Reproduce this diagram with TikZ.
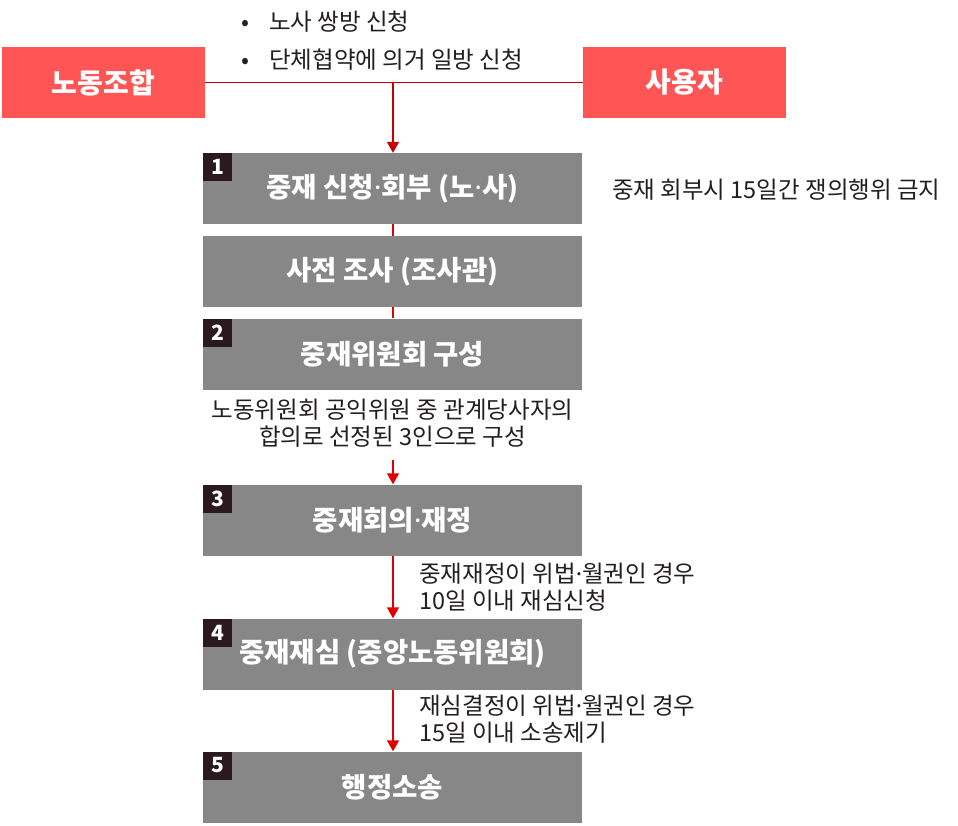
\documentclass[tikz,border=0pt]{standalone}
\usepackage{fontspec}
\setmainfont{Noto Sans CJK KR}
\newfontfamily\latinfont{Noto Sans}
\newcommand{\mdot}{{\latinfont ·}}
\usetikzlibrary{arrows.meta}
\definecolor{redbox}{RGB}{255,85,85}
\definecolor{graybox}{RGB}{135,135,135}
\definecolor{numbox}{RGB}{42,26,31}
\definecolor{lineRed}{RGB}{200,0,0}
\definecolor{arrowRed}{RGB}{225,0,0}
\definecolor{txt}{RGB}{35,31,32}
\tikzset{
  redblock/.style={fill=redbox, inner sep=0pt, minimum width=203pt, minimum height=71pt,
    text=white, font=\fontsize{28}{32}\selectfont\bfseries},
  stepbox/.style={fill=graybox, inner sep=0pt, minimum width=379pt, minimum height=71pt,
    text=white, font=\fontsize{27.5}{32}\selectfont\bfseries},
  numtag/.style={fill=numbox, inner sep=0pt, minimum width=29pt, minimum height=28pt,
    text=white, font=\fontsize{21}{24}\selectfont\bfseries, anchor=north west},
  note/.style={text=txt, inner sep=0pt, font=\fontsize{23.5}{27}\selectfont},
  link/.style={draw=arrowRed, line width=1.5pt},
  flow/.style={draw=arrowRed, line width=1.5pt, -{Triangle[width=12pt,length=11pt]}},
}
\begin{document}
\begin{tikzpicture}[x=1pt,y=-1pt]
\useasboundingbox (0,0) rectangle (958,825);
% top parties
\node[redblock] (union) at (103.5,82.5) {노동조합};
\node[redblock] (employer) at (684.5,82.5) {사용자};
\node[note, anchor=west] (b1) at (241,22) {•\hspace{20pt}노사 쌍방 신청};
\node[note, anchor=west] (b2) at (241,60) {•\hspace{20pt}단체협약에 의거 일방 신청};
% steps
\node[stepbox] (s1) at (392.5,188.5) {중재 신청\mdot 회부 (노\mdot 사)};
\node[stepbox] (s1b) at (392.5,271.5) {사전 조사 (조사관)};
\node[stepbox] (s2) at (392.5,354) {중재위원회 구성};
\node[stepbox] (s3) at (392.5,520) {중재회의\mdot 재정};
\node[stepbox] (s4) at (392.5,654) {중재재심 (중앙노동위원회)};
\node[stepbox] (s5) at (392.5,787) {행정소송};
\node[numtag] (n1) at (s1.north west) {1};
\node[numtag] (n2) at (s2.north west) {2};
\node[numtag] (n3) at (s3.north west) {3};
\node[numtag] (n4) at (s4.north west) {4};
\node[numtag] (n5) at (s5.north west) {5};
% notes
\node[note, anchor=west] (r1) at (612,190) {중재 회부시 15일간 쟁의행위 금지};
\node[note, align=center] (c2) at (392.5,423.5) {노동위원회 공익위원 중 관계당사자의\\합의로 선정된 3인으로 구성};
\node[note, anchor=west, align=left] (c3) at (419,587.5) {중재재정이 위법\mdot 월권인 경우\\10일 이내 재심신청};
\node[note, anchor=west, align=left] (c4) at (419,719.5) {재심결정이 위법\mdot 월권인 경우\\15일 이내 소송제기};
% connectors
\coordinate (j) at (393,83);
\coordinate (a3) at (393,460);
\draw[draw=lineRed, line width=1.5pt] (union.east) -- (employer.west);
\draw[flow, draw=lineRed] (j) -- (j |- s1.north);
\draw[link] (s1.south -| j) -- (s1b.north -| j);
\draw[link] (s1b.south -| j) -- (s2.north -| j);
\draw[flow] (a3) -- (a3 |- s3.north);
\draw[flow] (s3.south -| j) -- (s4.north -| j);
\draw[flow] (s4.south -| j) -- (s5.north -| j);
\end{tikzpicture}
\end{document}
